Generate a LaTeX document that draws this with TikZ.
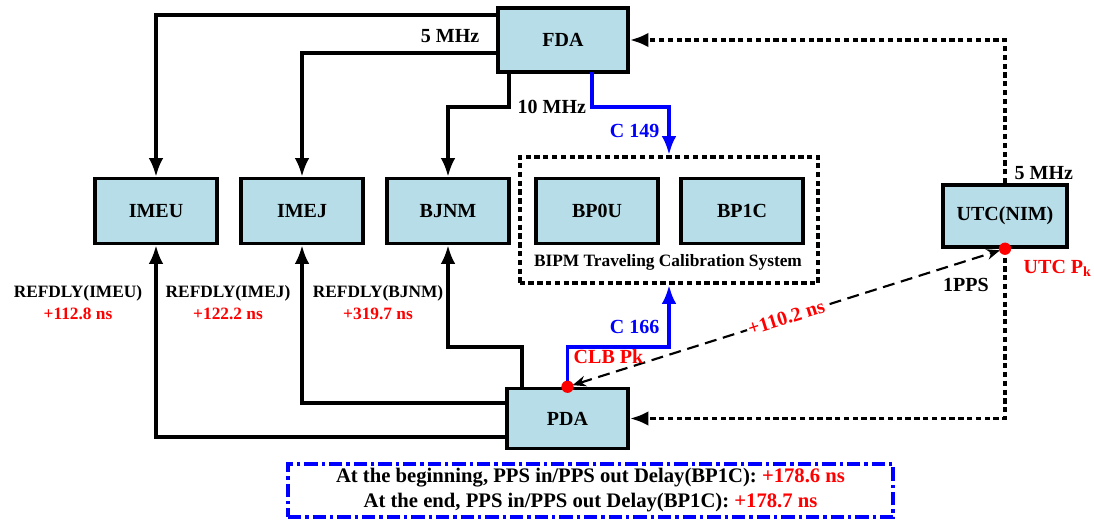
\documentclass[tikz,border=0pt]{standalone}
\usepackage{fontspec}
\setmainfont{Liberation Serif}
\usetikzlibrary{arrows.meta}

\definecolor{boxblue}{RGB}{183,221,232}

\begin{document}
\begin{tikzpicture}[x=0.75pt,y=-0.75pt,>={Latex[length=14pt,width=11pt]},
  every node/.style={font=\bfseries\fontsize{15}{18}\selectfont},
  unit/.style={draw, line width=2.6pt, fill=boxblue, minimum width=91.5pt, minimum height=48.75pt},
  wire/.style={line width=2.5pt},
  bluewire/.style={line width=2.5pt, blue},
  dotwire/.style={line width=2.8pt, dash pattern=on 4pt off 2.6pt},
  lbl/.style={font=\bfseries\fontsize{13}{16.5}\selectfont, align=center}]
                \useasboundingbox (0,0) rectangle (1094,520);

                % Units
                \node[unit, minimum width=97.5pt, minimum height=48pt] (fda) at (563,40) {FDA};
                \node[unit] (imeu) at (156,211) {IMEU};
                \node[unit] (imej) at (302,211) {IMEJ};
                \node[unit] (bjnm) at (448,211) {BJNM};
                \node[unit] (bp0u) at (597,211) {BP0U};
                \node[unit] (bp1c) at (742,211) {BP1C};
                \node[unit, minimum width=93pt, minimum height=46.5pt] (utc) at (1005,216) {UTC(NIM)};
                \node[unit, minimum width=90.75pt, minimum height=45pt] (pda) at (567.5,418.5) {PDA};

                % Traveling calibration system
                \node[draw, dotwire, minimum width=224pt, minimum height=95pt] (bipm) at (669,220) {};
                \node[lbl] (bipmtxt) at (668,262) {BIPM Traveling Calibration System};

                % Corner points of the wires
                \coordinate (f1) at (498,15);
                \coordinate (f2) at (498,53);
                \coordinate (f3) at (509,72);
                \coordinate (f3m) at (509,107);
                \coordinate (c149s) at (592,72);
                \coordinate (c149m) at (669,107);
                \coordinate (c166m) at (669,347);
                \coordinate (p1) at (508,437);
                \coordinate (p2) at (508,403);
                \coordinate (p3) at (522,388);
                \coordinate (p3m) at (522,347);

                % Frequency distribution
                \draw[wire,->] (f1) -| (imeu.north);
                \draw[wire,->] (f2) -| (imej.north);
                \draw[wire,->] (f3) -- (f3m) -| (bjnm.north);
                \draw[bluewire,->] (c149s) |- (c149m) -- (bipm.north);
                \draw[dotwire,->] (utc.north) |- (fda.east);

                % Pulse distribution
                \draw[wire,->] (p1) -| (imeu.south);
                \draw[wire,->] (p2) -| (imej.south);
                \draw[wire,->] (p3) -- (p3m) -| (bjnm.south);
                \draw[bluewire,->] (pda.north) |- (c166m) -- (bipm.south);
                \draw[dotwire,->] (utc.south) |- (pda.east);

                % Link between the two reference points
                \draw[line width=1.6pt, dash pattern=on 9pt off 5pt, {Stealth[length=10pt,width=8pt]}-{Stealth[length=10pt,width=8pt]}, shorten <=4pt, shorten >=4pt]
                    (pda.north) -- node[sloped, midway, fill=white, inner sep=1pt, text=red] (dly) {+110.2 ns} (utc.south);

                % Make reference points visible
                \fill[red] (pda.north) circle (4.6pt);
                \fill[red] (utc.south) circle (4.6pt);

                % Labels
                \node[anchor=east] (l5a) at (484,36) {5 MHz};
                \node[anchor=west] (l10) at (513,107) {10 MHz};
                \node[anchor=west] (l5b) at (1010,173) {5 MHz};
                \node[anchor=east, text=blue] (lc149) at (664,131) {C 149};
                \node[anchor=east, text=blue] (lc166) at (664,327) {C 166};
                \node[anchor=west, text=red] (lclb) at (569,357) {CLB Pk};
                \node[anchor=west, text=red] (lutc) at (1019,268) {UTC P\textsubscript{k}};
                \node (lpps) at (966,285) {1PPS};
                \node[lbl] (rimeu) at (78,303) {REFDLY(IMEU)\\\textcolor{red}{+112.8 ns}};
                \node[lbl] (rimej) at (228,303) {REFDLY(IMEJ)\\\textcolor{red}{+122.2 ns}};
                \node[lbl] (rbjnm) at (378,303) {REFDLY(BJNM)\\\textcolor{red}{+319.7 ns}};

                % Delay of BP1C
                \node[draw=blue, line width=2.4pt, dash pattern=on 10pt off 3pt on 2.5pt off 3pt, minimum width=453.75pt, minimum height=39.75pt, align=center, font=\bfseries\fontsize{15.5}{18.75}\selectfont] (note) at (590.5,490.5)
                    {At the beginning, PPS in/PPS out Delay(BP1C): \textcolor{red}{+178.6 ns}\\At the end, PPS in/PPS out Delay(BP1C): \textcolor{red}{+178.7 ns}};
            \end{tikzpicture}
\end{document}
